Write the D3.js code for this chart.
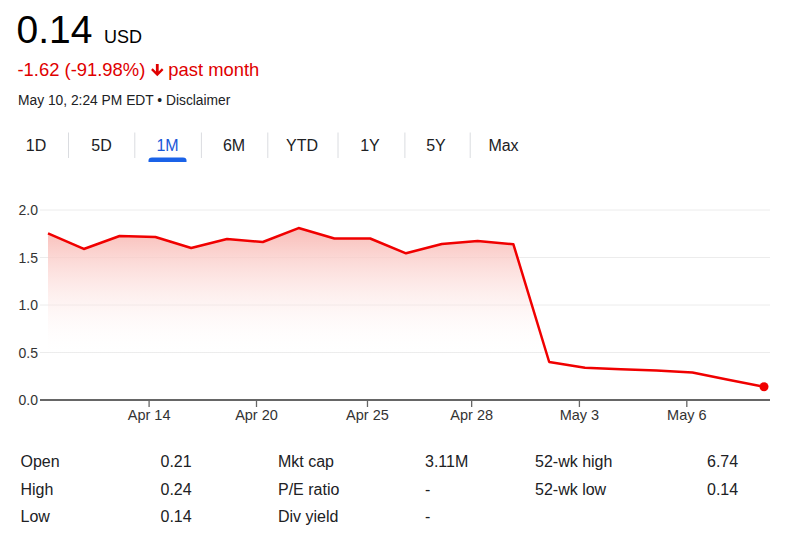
<!DOCTYPE html>
<html>
<head>
<meta charset="utf-8">
<script src="https://cdn.jsdelivr.net/npm/d3@7"></script>
<style>
  html, body { margin: 0; padding: 0; background: #fff; }
  svg { display: block; font-family: "Liberation Sans", Arial, Helvetica, sans-serif; }
</style>
</head>
<body>
<svg id="chart" width="800" height="540"></svg>
<script>
// ---- data ----
const prices = [1.755, 1.59, 1.726, 1.716, 1.60, 1.695, 1.663, 1.81, 1.70, 1.70,
                1.544, 1.642, 1.674, 1.639, 0.40, 0.34, 0.323, 0.31, 0.29, 0.214, 0.14];
const xTickLabels = ["Apr 14", "Apr 20", "Apr 25", "Apr 28", "May 3", "May 6"];
const xTickIndex = [2.81, 5.81, 8.91, 11.82, 14.83, 17.83];
const yTicks = [0, 0.5, 1.0, 1.5, 2.0];
const tabs = ["1D", "5D", "1M", "6M", "YTD", "1Y", "5Y", "Max"];
const activeTab = "1M";
const priceText = "0.14";
const currency = "USD";
const changeText = "-1.62 (-91.98%)";
const periodText = "past month";
const stampText = "May 10, 2:24 PM EDT • Disclaimer";
const statLabels1 = ["Open", "High", "Low"];
const statValues1 = ["0.21", "0.24", "0.14"];
const statLabels2 = ["Mkt cap", "P/E ratio", "Div yield"];
const statValues2 = ["3.11M", "-", "-"];
const statLabels3 = ["52-wk high", "52-wk low"];
const statValues3 = ["6.74", "0.14"];

// ---- drawing ----
const svg = d3.select("#chart");
const RED = "#f00000";
const RED_TEXT = "#e00000";
const TEXT = "#202124";

// header
svg.append("text").attr("x", 16.5).attr("y", 43).attr("font-size", 39).attr("fill", "#000").text(priceText);
svg.append("text").attr("x", 104).attr("y", 43).attr("font-size", 18).attr("fill", "#000").text(currency);
const chg = svg.append("text").attr("x", 17.5).attr("y", 76).attr("font-size", 18.4).attr("fill", RED_TEXT).text(changeText);
const chgW = chg.node().getComputedTextLength();
const ax = 17.5 + chgW + 12;
svg.append("path")
  .attr("d", `M${ax - 1.4},64 L${ax + 1.4},64 L${ax + 1.4},71.5 L${ax + 4.6},68.2 L${ax + 6.2},70 L${ax},76.2 L${ax - 6.2},70 L${ax - 4.6},68.2 L${ax - 1.4},71.5 Z`)
  .attr("fill", RED_TEXT);
svg.append("text").attr("x", ax + 11).attr("y", 76).attr("font-size", 18.4).attr("fill", RED_TEXT).text(periodText);
svg.append("text").attr("x", 18).attr("y", 105).attr("font-size", 13.8).attr("fill", TEXT).text(stampText);

// tabs
const tabCenters = [36, 101.5, 167.5, 234, 302, 370, 436, 503.5];
const sepX = [68.5, 134.8, 201.4, 267.8, 338, 404.9, 470.2];
tabs.forEach((t, i) => {
  svg.append("text").attr("x", tabCenters[i]).attr("y", 151).attr("text-anchor", "middle")
    .attr("font-size", 16).attr("fill", t === activeTab ? "#1a57d8" : TEXT).text(t);
});
sepX.forEach(x => {
  svg.append("line").attr("x1", x).attr("x2", x).attr("y1", 132.5).attr("y2", 158)
    .attr("stroke", "#dadce0").attr("stroke-width", 1);
});
const ai = tabs.indexOf(activeTab);
const uc = tabCenters[ai];
svg.append("path")
  .attr("d", `M${uc - 19},162 L${uc - 19},160.5 Q${uc - 19},157.5 ${uc - 15.5},157.5 L${uc + 15.5},157.5 Q${uc + 19},157.5 ${uc + 19},160.5 L${uc + 19},162 Z`)
  .attr("fill", "#1a62e8");

// chart
const x = d3.scaleLinear().domain([0, prices.length - 1]).range([48, 764]);
const y = d3.scaleLinear().domain([0, 2]).range([400, 210]);
const gx0 = 40, gx1 = 770;

const defs = svg.append("defs");
const grad = defs.append("linearGradient").attr("id", "fillGrad")
  .attr("gradientUnits", "userSpaceOnUse")
  .attr("x1", 0).attr("x2", 0).attr("y1", y(d3.max(prices))).attr("y2", y(0.45));
grad.append("stop").attr("offset", 0).attr("stop-color", "#f9bcb7").attr("stop-opacity", 1);
grad.append("stop").attr("offset", 1).attr("stop-color", "#ffffff").attr("stop-opacity", 0);

// grid
svg.append("g").selectAll("line").data(yTicks.filter(d => d > 0)).join("line")
  .attr("x1", gx0).attr("x2", gx1).attr("y1", d => y(d)).attr("y2", d => y(d))
  .attr("stroke", "#ececec").attr("stroke-width", 1);

// y labels
svg.append("g").selectAll("text").data(yTicks).join("text")
  .attr("x", 38).attr("y", d => y(d) + 5).attr("text-anchor", "end")
  .attr("font-size", 14).attr("fill", "#333").text(d => d.toFixed(1));

// area + line
const area = d3.area().x((d, i) => x(i)).y0(y(0)).y1(d => y(d));
svg.append("path").datum(prices).attr("d", area).attr("fill", "url(#fillGrad)");
const line = d3.line().x((d, i) => x(i)).y(d => y(d));
svg.append("path").datum(prices).attr("d", line).attr("fill", "none")
  .attr("stroke", RED).attr("stroke-width", 2.5).attr("stroke-linejoin", "round");

// x axis
const xAxis = d3.axisBottom(x).tickValues(xTickIndex)
  .tickFormat((d, i) => xTickLabels[i]).tickSize(7).tickSizeOuter(0);
const gAxis = svg.append("g").attr("transform", `translate(0,${y(0)})`).call(xAxis);
gAxis.select(".domain").remove();
gAxis.selectAll(".tick line").attr("stroke", "#666").attr("stroke-width", 1.3);
gAxis.selectAll(".tick text").attr("font-size", 14.5).attr("fill", "#333")
  .attr("font-family", "Liberation Sans, Arial, sans-serif").attr("dy", 0).attr("y", 20);
svg.append("line").attr("x1", gx0).attr("x2", gx1).attr("y1", y(0)).attr("y2", y(0))
  .attr("stroke", "#666").attr("stroke-width", 2);

// end dot
svg.append("circle").attr("cx", x(prices.length - 1)).attr("cy", y(prices[prices.length - 1]))
  .attr("r", 4.5).attr("fill", RED);

// stats
const rowsY = [467, 494.5, 522];
function col(labels, xPos) {
  labels.forEach((t, i) => svg.append("text").attr("x", xPos).attr("y", rowsY[i])
    .attr("font-size", 16).attr("fill", TEXT).text(t));
}
col(statLabels1, 20.5); col(statValues1, 160.5);
col(statLabels2, 278); col(statValues2, 425);
col(statLabels3, 535); col(statValues3, 707);
</script>
</body>
</html>
